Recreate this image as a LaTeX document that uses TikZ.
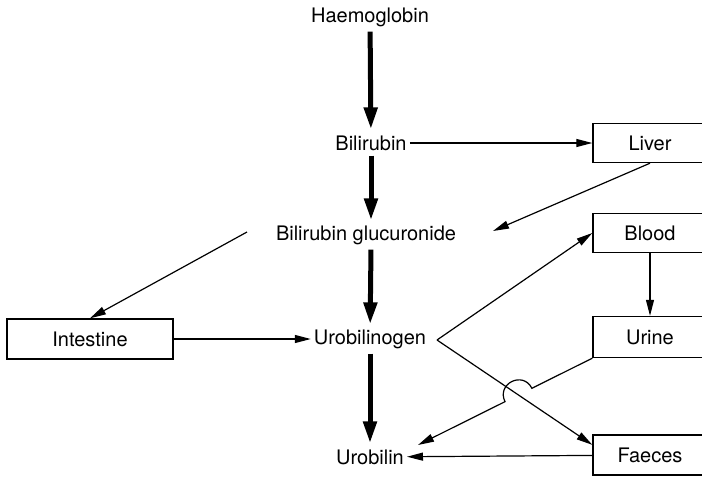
\documentclass[tikz,border=0pt]{standalone}
\usepackage{fontspec}
\setmainfont{TeX Gyre Heros}
\usetikzlibrary{arrows.meta,calc}
\tikzstyle{chem} = [inner sep=3pt]
\tikzstyle{box} = [rectangle, draw, line width=1.4pt, minimum width=114pt,
  minimum height=39pt, inner sep=0pt]
\tikzstyle{heavy} = [draw, line width=5pt, -{Triangle[length=22pt,width=13pt]}]
\tikzstyle{line} = [draw, line width=1.2pt, -{Triangle[length=16pt,width=8pt]}]

\begin{document}
\begin{tikzpicture}[x=1pt, y=-1pt, font=\fontsize{20}{24}\selectfont]
  \useasboundingbox (0,0) rectangle (702,477);
  % main chain
  \node [chem] (haem) at (370,17) {Haemoglobin};
  \node [chem] (bili) at (371,143) {Bilirubin};
  \node [chem] (bilig) at (366,235) {Bilirubin glucuronide};
  \node [chem] (urogen) at (370,339) {Urobilinogen};
  \node [chem] (urob) at (370,457) {Urobilin};
  \path [heavy, shorten <=2pt, shorten >=3pt] (haem) -- (bili);
  \path [heavy, shorten <=2pt, shorten >=2pt] (bili) -- (bili |- bilig.north);
  \path [heavy, shorten <=2pt, shorten >=2pt] (bili |- bilig.south) -- (urogen);
  \path [heavy, shorten <=2pt, shorten >=3pt] (urogen) -- (urob);

  % organs
  \node [box] (liver) at (650,143) {Liver};
  \node [box] (blood) at (650,233) {Blood};
  \node [box, minimum height=41pt] (urine) at (650,337) {Urine};
  \node [box, minimum height=40pt] (faeces) at (650,455) {Faeces};
  \node [box, minimum width=166pt, minimum height=40pt] (intest) at (90,339) {Intestine};

  % free ends
  \coordinate (bgin) at (493,231);
  \coordinate (bgout) at (247,232);
  \coordinate (vtip) at (437,340);
  \coordinate (urobin) at (418,445);

  \path [line] (bili) -- (liver);
  \path [line] (liver.south) -- (bgin);
  \path [line] (bgout) -- (intest.north);
  \path [line] (intest) -- (urogen);
  \path [line] (vtip) -- (blood.west);
  \path [line] (vtip) -- (faeces.170);
  \path [line] (blood) -- (urine);
  \path [line] (faeces) -- (urob);

  % urine back to urobilin, hopping over the faeces line
  \coordinate (cross) at (intersection of vtip--faeces.170 and urine.south west--urobin);
  \coordinate (hopa) at ($(cross)!15pt!(urine.south west)$);
  \coordinate (hopb) at ($(cross)!15pt!(urobin)$);
  \path [line] (urine.south west) -- (hopa)
    .. controls ($(hopa)!20pt!-90:(cross)$) and ($(hopb)!20pt!90:(cross)$) .. (hopb)
    -- (urobin);
\end{tikzpicture}
\end{document}
